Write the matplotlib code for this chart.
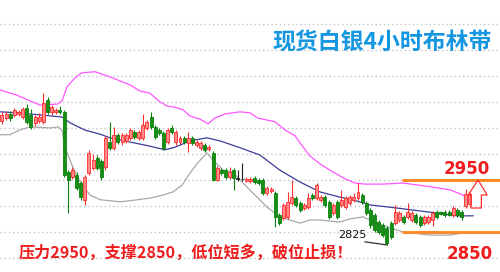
import matplotlib
matplotlib.use("Agg")
import matplotlib.pyplot as plt
from matplotlib.patches import Polygon

plt.rcParams['font.family'] = ['Noto Sans CJK SC', 'DejaVu Sans']

# ---- candle data (4h silver) ----
opens = [3063, 3069, 3077, 3075, 3077, 3071, 3088, 3075, 3060, 3063,
         3062, 3104, 3081, 3081, 3085, 3081, 2965, 2956, 2960, 2944,
         2912, 2963, 2973, 2992, 2987, 2975, 3023, 3012, 3037, 3023,
         3025, 3031, 3042, 3031, 3031, 3050, 3071, 3052, 3046, 3040,
         3023, 3050, 3023, 3023, 3031, 3021, 3031, 3017, 3012, 3017,
         3010, 3002, 2950, 2969, 2969, 2956, 2969, 2954, 2952, 2948,
         2948, 2954, 2950, 2950, 2925, 2929, 2925, 2883, 2877, 2879,
         2906, 2915, 2906, 2896, 2898, 2921, 2915, 2912, 2917, 2908,
         2887, 2908, 2902, 2898, 2906, 2912, 2915, 2921, 2906, 2892,
         2883, 2869, 2863, 2858, 2867, 2867, 2873, 2879, 2879, 2873,
         2883, 2879, 2867, 2869, 2873, 2888, 2888, 2888, 2888, 2883,
         2892, 2888, 2900, 2904]
closes = [3075, 3077, 3069, 3085, 3081, 3087, 3062, 3052, 3071, 3071,
          3098, 3081, 3090, 3085, 3081, 2960, 2950, 2969, 2935, 2917,
          2956, 3002, 2988, 2973, 2956, 3031, 3012, 3037, 3023, 3037,
          3037, 3046, 3033, 3042, 3056, 3062, 3052, 3033, 3040, 3012,
          3046, 3042, 3042, 3031, 3023, 3031, 3021, 3023, 3021, 3008,
          3013, 2950, 2973, 2963, 2956, 2965, 2954, 2952, 2951, 2952,
          2952, 2946, 2944, 2925, 2935, 2933, 2879, 2867, 2902, 2908,
          2917, 2902, 2892, 2902, 2915, 2915, 2940, 2917, 2902, 2879,
          2902, 2879, 2912, 2915, 2917, 2917, 2927, 2908, 2887, 2863,
          2854, 2850, 2844, 2829, 2840, 2888, 2887, 2869, 2888, 2887,
          2869, 2863, 2879, 2879, 2887, 2879, 2885, 2883, 2883, 2896,
          2883, 2879, 2923, 2923]
highs = [3081, 3083, 3083, 3088, 3085, 3090, 3096, 3087, 3075, 3079,
         3117, 3110, 3094, 3088, 3092, 3085, 2969, 2975, 2965, 2948,
         2960, 3008, 3000, 2998, 2990, 3035, 3062, 3052, 3040, 3040,
         3040, 3050, 3046, 3046, 3077, 3065, 3081, 3056, 3050, 3044,
         3050, 3056, 3046, 3035, 3035, 3042, 3035, 3027, 3025, 3021,
         3017, 3006, 2977, 2973, 2973, 2975, 2973, 2969, 2983, 2956,
         2956, 2958, 2954, 2954, 2939, 2937, 2929, 2887, 2906, 2927,
         2950, 2919, 2910, 2906, 2925, 2925, 2944, 2921, 2921, 2912,
         2906, 2912, 2931, 2919, 2921, 2925, 2944, 2925, 2910, 2896,
         2887, 2873, 2867, 2862, 2871, 2902, 2890, 2883, 2906, 2890,
         2887, 2883, 2883, 2883, 2890, 2892, 2890, 2892, 2892, 2900,
         2896, 2892, 2933, 2927]
lows = [3058, 3065, 3063, 3071, 3073, 3067, 3058, 3048, 3054, 3060,
        3058, 3077, 3075, 3077, 3077, 2956, 2887, 2952, 2931, 2912,
        2902, 2960, 2969, 2969, 2950, 2969, 3008, 3008, 3019, 3017,
        3021, 3027, 3029, 3027, 3027, 3046, 3048, 3029, 3037, 3008,
        3019, 3038, 3017, 3019, 3019, 3004, 3017, 3013, 3008, 3004,
        3006, 2948, 2948, 2960, 2952, 2952, 2931, 2948, 2948, 2946,
        2944, 2942, 2940, 2921, 2921, 2925, 2860, 2863, 2873, 2875,
        2902, 2898, 2888, 2892, 2894, 2912, 2912, 2908, 2898, 2875,
        2883, 2875, 2898, 2894, 2902, 2908, 2912, 2904, 2883, 2858,
        2850, 2846, 2840, 2825, 2837, 2863, 2869, 2865, 2875, 2869,
        2865, 2860, 2863, 2865, 2862, 2875, 2883, 2879, 2881, 2879,
        2879, 2873, 2896, 2900]
doji_idx = [57, 58]

# ---- Bollinger bands ----
upper_x = [-0.5, 3.6, 6.8, 9.2, 13.5, 14.5, 15.7, 17.6, 19.3, 22.5, 26.1, 30.9,
           33.3, 35.7, 38.2, 39.9, 41.8, 43.7, 45.4, 47.8, 49.8, 51.4, 53.9,
           57.5, 59.9, 61.8, 65.9, 68.4, 70.8, 72.0, 74.4, 76.8, 79.2, 82.9,
           85.3, 87.7, 92.0, 96.9, 103.4, 108.2, 111.4, 112.8]
upper_y = [3123, 3113, 3102, 3094, 3096, 3102, 3129, 3146, 3156, 3158, 3148, 3133,
           3121, 3117, 3100, 3092, 3090, 3085, 3073, 3067, 3058, 3069, 3077,
           3081, 3079, 3069, 3062, 3046, 3035, 3021, 2996, 2981, 2969, 2952,
           2944, 2942, 2942, 2944, 2937, 2931, 2921, 2908]
mid_x = [-0.5, 4.3, 9.2, 14.5, 16.4, 20.0, 23.7, 26.1, 30.9, 35.7, 39.4, 41.8,
         45.4, 49.5, 52.7, 57.5, 62.3, 67.1, 72.0, 76.8, 81.6, 84.1, 88.9,
         95.4, 103.4, 109.9, 113.8]
mid_y = [3081, 3079, 3075, 3071, 3060, 3046, 3038, 3031, 3023, 3015, 3008, 3013,
         3025, 3031, 3025, 3012, 2998, 2969, 2946, 2927, 2917, 2913, 2902,
         2896, 2888, 2881, 2881]
lower_x = [-0.5, 1.9, 4.3, 6.8, 11.6, 13.5, 14.5, 15.2, 17.1, 19.3, 21.3, 23.7,
           28.5, 30.9, 35.7, 38.9, 41.3, 43.5, 45.4, 47.3, 49.5, 51.0, 53.4,
           55.8, 57.5, 60.6, 64.0, 67.1, 72.0, 74.4, 76.8, 81.6, 84.1, 87.2,
           90.6, 93.7, 96.9, 103.4, 108.2, 111.4, 113.8]
lower_y = [3037, 3037, 3046, 3052, 3050, 3052, 3046, 3013, 2975, 2940, 2921, 2912,
           2908, 2910, 2915, 2921, 2927, 2940, 2963, 2983, 3002, 2988, 2969,
           2965, 2950, 2925, 2898, 2879, 2867, 2873, 2873, 2869, 2875, 2879,
           2867, 2858, 2850, 2844, 2844, 2848, 2850]

grid_levels = [2800, 2850, 2900, 2950, 3000, 3050, 3100, 3150, 3200, 3250]
resistance = 2950
support = 2850
low_mark = 2825
title = "现货白银4小时布林带"
note = "压力2950，支撑2850，低位短多，破位止损！"

fig = plt.figure(figsize=(5.0, 2.72), dpi=100)
ax = fig.add_axes([0, 0, 1, 1])
ax.set_xlim(-0.48, 120.3)
ax.set_ylim(2773, 3296)
ax.axis('off')

for g in grid_levels:
    ax.axhline(g, color='#c4c4c4', lw=1.0, ls=(0, (1, 2)), zorder=0)

ax.plot(upper_x, upper_y, color='#ff55ff', lw=0.9, zorder=2)
ax.plot(mid_x, mid_y, color='#3c3c9c', lw=0.9, zorder=2)
ax.plot(lower_x, lower_y, color='#a8a8a8', lw=0.9, zorder=2)

n = len(opens)
xs = list(range(n))
for i in xs:
    o, c, h, l = opens[i], closes[i], highs[i], lows[i]
    if i in doji_idx:
        col, face = '#202020', '#202020'
    elif c >= o:
        col, face = '#ff2a2a', '#ff8a8a'
    else:
        col, face = '#0c820c', '#178f17'
    ax.vlines(i, l, h, color=col, lw=0.8, zorder=3)
    bot = min(o, c)
    hgt = max(abs(c - o), 1.2)
    ax.bar(i, hgt, bottom=bot, width=0.72, color=face, edgecolor=col,
           linewidth=0.6, zorder=4)

# support / resistance lines
ax.hlines([resistance, support], 96.6, 120.3, color='#ff8c28', lw=2.2, zorder=5)
ax.text(112.3, resistance + 22, "2950", color='#ee1c1c', fontsize=12,
        fontweight='bold', ha='center', va='center', family=['DejaVu Sans'])
ax.text(113.0, support - 42, "2850", color='#ee1c1c', fontsize=12,
        fontweight='bold', ha='center', va='center', family=['DejaVu Sans'])

# 2825 low marker
ax.plot([87.7, 93.0], [2831, 2825], color='#303030', lw=0.9, zorder=5)
ax.text(84.6, 2844, "2825", color='#111111', fontsize=8, ha='center',
        va='center', family=['DejaVu Sans'])

# hollow up arrow
arrow = Polygon([(113.3, 2896), (113.3, 2921), (112.6, 2921), (115.0, 2950),
                 (117.2, 2921), (115.8, 2921), (115.8, 2896)],
                closed=True, fill=False, edgecolor='#ff3030', lw=0.9, zorder=6)
ax.add_patch(arrow)

ax.text(0.764, 0.842, title, transform=ax.transAxes, color='#1496e0',
        fontsize=16.5, fontweight='bold', ha='center', va='center')
ax.text(0.372, 0.07, note, transform=ax.transAxes, color='#ee1c1c',
        fontsize=11.6, fontweight='bold', ha='center', va='center')

fig.savefig("out.png", dpi=100)
